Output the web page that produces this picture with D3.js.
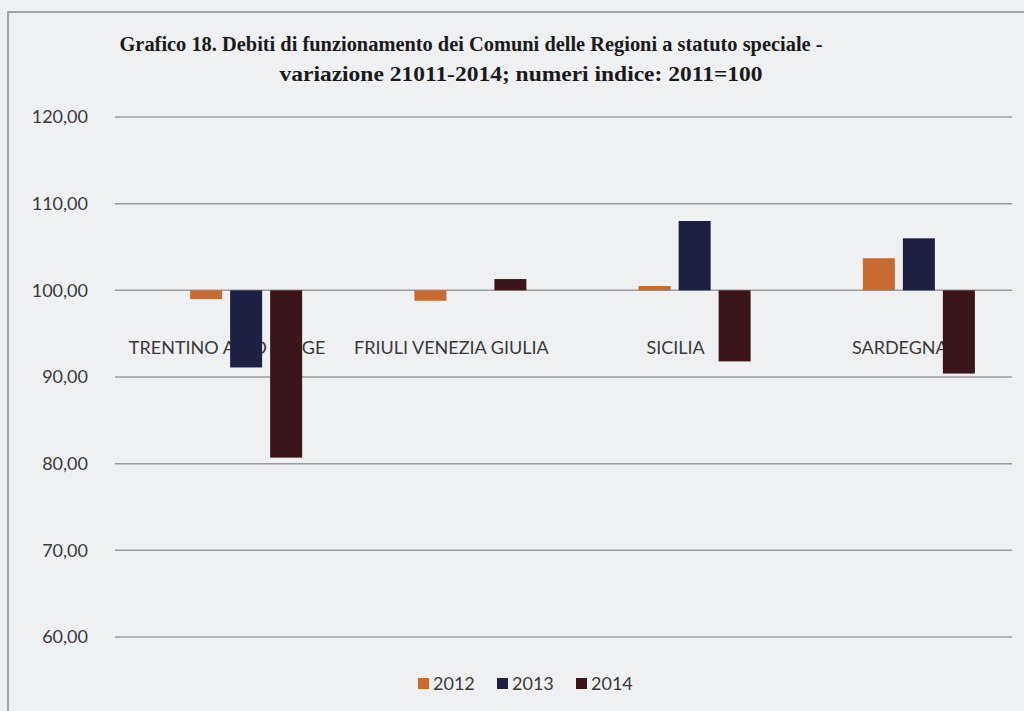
<!DOCTYPE html>
<html>
<head>
<meta charset="utf-8">
<script src="https://cdn.jsdelivr.net/npm/d3@7"></script>
<style>
  body { margin: 0; background: #eff0f2; }
  svg { display: block; }
</style>
</head>
<body>
<div id="chart"></div>
<script>
// data
const regions = ["TRENTINO ALTO ADIGE", "FRIULI VENEZIA GIULIA", "SICILIA", "SARDEGNA"];
const years = ["2012", "2013", "2014"];
const v2012 = [99.0, 98.8, 100.5, 103.7];
const v2013 = [91.1, 100.0, 108.0, 106.0];
const v2014 = [80.7, 101.3, 91.8, 90.4];
const yTicks = [60, 70, 80, 90, 100, 110, 120];
const titleLines = [
  "Grafico 18. Debiti di funzionamento dei Comuni delle Regioni a statuto speciale -",
  "variazione 21011-2014; numeri indice: 2011=100"
];

const width = 1024, height = 711;
const series = [v2012, v2013, v2014];
const colors = ["#c96a30", "#1d2040", "#3b1519"];

const svg = d3.select("#chart").append("svg")
    .attr("width", width)
    .attr("height", height);

// paper + frame
svg.append("rect").attr("width", width).attr("height", height).attr("fill", "#eff0f2");
svg.append("path")
    .attr("d", "M8,711V12H1024")
    .attr("fill", "none")
    .attr("stroke", "#8a8a8a")
    .attr("stroke-width", 1.5);

// title, squeezed to the widths in the picture
const titleX = [471, 521], titleW = [703, 483];
svg.append("g")
    .attr("font-family", "'Liberation Serif', serif")
    .attr("font-weight", "bold")
    .attr("font-size", 20)
    .attr("fill", "#1a1a1a")
  .selectAll("text")
  .data(titleLines)
  .join("text")
    .attr("x", (d, i) => titleX[i])
    .attr("y", (d, i) => 51 + i * 30)
    .attr("text-anchor", "middle")
    .attr("textLength", (d, i) => titleW[i])
    .attr("lengthAdjust", "spacingAndGlyphs")
    .text(d => d);

// scales
const x = d3.scaleBand().domain(regions).range([115, 1012]);
const xs = d3.scaleBand().domain(years).range([0, 112]).paddingInner(0.2);
const y = d3.scaleLinear().domain([60, 120]).range([637, 117]);
const barShift = 19; // clusters sit a bit right of the band centres

// gridlines
svg.append("g")
  .selectAll("line")
  .data(yTicks)
  .join("line")
    .attr("x1", 115).attr("x2", 1012)
    .attr("y1", d => y(d)).attr("y2", d => y(d))
    .attr("stroke", "#9c9c9c")
    .attr("stroke-width", 1.5);

// y axis labels
const fmt = d => d.toFixed(2).replace(".", ",");
svg.append("g")
    .attr("font-family", "Lato, sans-serif")
    .attr("font-size", 18)
    .attr("fill", "#3a3a3a")
  .selectAll("text")
  .data(yTicks)
  .join("text")
    .attr("x", 88)
    .attr("y", d => y(d))
    .attr("dy", "0.35em")
    .attr("text-anchor", "end")
    .text(fmt);

// category labels (behind the bars)
svg.append("g")
    .attr("font-family", "Lato, sans-serif")
    .attr("font-size", 18)
    .attr("fill", "#3a3a3a")
  .selectAll("text")
  .data(regions)
  .join("text")
    .attr("x", d => x(d) + x.bandwidth() / 2)
    .attr("y", 354)
    .attr("text-anchor", "middle")
    .text(d => d);

// bars
const groupW = xs.range()[1];
svg.append("g")
  .selectAll("g")
  .data(series)
  .join("g")
    .attr("fill", (d, i) => colors[i])
  .selectAll("rect")
  .data((vals, si) => vals.map((v, ri) => ({v, region: regions[ri], year: years[si]})))
  .join("rect")
    .attr("x", d => x(d.region) + (x.bandwidth() - groupW) / 2 + barShift + xs(d.year))
    .attr("width", xs.bandwidth())
    .attr("y", d => Math.min(y(d.v), y(100)))
    .attr("height", d => Math.abs(y(d.v) - y(100)));

// legend
const legend = svg.append("g")
    .attr("font-family", "Lato, sans-serif")
    .attr("font-size", 18)
    .attr("fill", "#3a3a3a")
  .selectAll("g")
  .data(years)
  .join("g")
    .attr("transform", (d, i) => `translate(${418 + i * 79},678)`);
legend.append("rect")
    .attr("width", 11).attr("height", 11)
    .attr("fill", (d, i) => colors[i]);
legend.append("text")
    .attr("x", 15).attr("y", 12)
    .text(d => d);
</script>
</body>
</html>
